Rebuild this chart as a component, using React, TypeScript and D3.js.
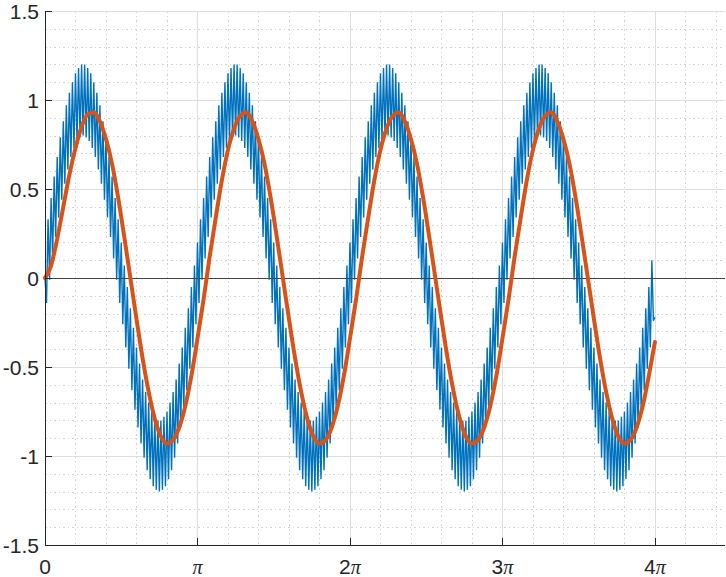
import React from 'react';
import * as d3 from 'd3';

const W = 726;
const H = 577;

// x-axis ticks (multiples of pi) and labels
const X_TICK_MULT = [0, 1, 2, 3, 4];
const X_TICK_NUM = ['0', '', '2', '3', '4'];
const Y_TICKS = [-1.5, -1, -0.5, 0, 0.5, 1, 1.5];
const Y_TICK_LABELS = ['-1.5', '-1', '-0.5', '0', '0.5', '1', '1.5'];

// noisy signal, sampled every pi/100 from 0 to 4*pi
const BLUE: number[] = [
  0.00, -0.14, 0.33, -0.01, 0.45, 0.11, 0.57, 0.23, 0.68, 0.34,
  0.79, 0.44, 0.88, 0.53, 0.97, 0.61, 1.04, 0.68, 1.10, 0.73,
  1.15, 0.77, 1.18, 0.79, 1.20, 0.80, 1.20, 0.79, 1.18, 0.77,
  1.15, 0.73, 1.10, 0.68, 1.04, 0.61, 0.97, 0.53, 0.88, 0.44,
  0.79, 0.34, 0.68, 0.23, 0.57, 0.11, 0.45, -0.01, 0.33, -0.14,
  0.20, -0.26, 0.07, -0.39, -0.05, -0.51, -0.17, -0.63, -0.28, -0.74,
  -0.39, -0.84, -0.48, -0.93, -0.57, -1.01, -0.64, -1.08, -0.70, -1.13,
  -0.75, -1.17, -0.78, -1.19, -0.80, -1.20, -0.80, -1.19, -0.78, -1.17,
  -0.75, -1.13, -0.70, -1.08, -0.64, -1.01, -0.57, -0.93, -0.48, -0.84,
  -0.39, -0.74, -0.28, -0.63, -0.17, -0.51, -0.05, -0.39, 0.07, -0.26,
  0.20, -0.14, 0.33, -0.01, 0.45, 0.11, 0.57, 0.23, 0.68, 0.34,
  0.79, 0.44, 0.88, 0.53, 0.97, 0.61, 1.04, 0.68, 1.10, 0.73,
  1.15, 0.77, 1.18, 0.79, 1.20, 0.80, 1.20, 0.79, 1.18, 0.77,
  1.15, 0.73, 1.10, 0.68, 1.04, 0.61, 0.97, 0.53, 0.88, 0.44,
  0.79, 0.34, 0.68, 0.23, 0.57, 0.11, 0.45, -0.01, 0.33, -0.14,
  0.20, -0.26, 0.07, -0.39, -0.05, -0.51, -0.17, -0.63, -0.28, -0.74,
  -0.39, -0.84, -0.48, -0.93, -0.57, -1.01, -0.64, -1.08, -0.70, -1.13,
  -0.75, -1.17, -0.78, -1.19, -0.80, -1.20, -0.80, -1.19, -0.78, -1.17,
  -0.75, -1.13, -0.70, -1.08, -0.64, -1.01, -0.57, -0.93, -0.48, -0.84,
  -0.39, -0.74, -0.28, -0.63, -0.17, -0.51, -0.05, -0.39, 0.07, -0.26,
  0.20, -0.14, 0.33, -0.01, 0.45, 0.11, 0.57, 0.23, 0.68, 0.34,
  0.79, 0.44, 0.88, 0.53, 0.97, 0.61, 1.04, 0.68, 1.10, 0.73,
  1.15, 0.77, 1.18, 0.79, 1.20, 0.80, 1.20, 0.79, 1.18, 0.77,
  1.15, 0.73, 1.10, 0.68, 1.04, 0.61, 0.97, 0.53, 0.88, 0.44,
  0.79, 0.34, 0.68, 0.23, 0.57, 0.11, 0.45, -0.01, 0.33, -0.14,
  0.20, -0.26, 0.07, -0.39, -0.05, -0.51, -0.17, -0.63, -0.28, -0.74,
  -0.39, -0.84, -0.48, -0.93, -0.57, -1.01, -0.64, -1.08, -0.70, -1.13,
  -0.75, -1.17, -0.78, -1.19, -0.80, -1.20, -0.80, -1.19, -0.78, -1.17,
  -0.75, -1.13, -0.70, -1.08, -0.64, -1.01, -0.57, -0.93, -0.48, -0.84,
  -0.39, -0.74, -0.28, -0.63, -0.17, -0.51, -0.05, -0.39, 0.07, -0.26,
  0.20, -0.14, 0.33, -0.01, 0.45, 0.11, 0.57, 0.23, 0.68, 0.34,
  0.79, 0.44, 0.88, 0.53, 0.97, 0.61, 1.04, 0.68, 1.10, 0.73,
  1.15, 0.77, 1.18, 0.79, 1.20, 0.80, 1.20, 0.79, 1.18, 0.77,
  1.15, 0.73, 1.10, 0.68, 1.04, 0.61, 0.97, 0.53, 0.88, 0.44,
  0.79, 0.34, 0.68, 0.23, 0.57, 0.11, 0.45, -0.01, 0.33, -0.14,
  0.20, -0.26, 0.07, -0.39, -0.05, -0.51, -0.17, -0.63, -0.28, -0.74,
  -0.39, -0.84, -0.48, -0.93, -0.57, -1.01, -0.64, -1.08, -0.70, -1.13,
  -0.75, -1.17, -0.78, -1.19, -0.80, -1.20, -0.80, -1.19, -0.78, -1.17,
  -0.75, -1.13, -0.70, -1.08, -0.64, -1.01, -0.57, -0.93, -0.48, -0.84,
  -0.39, -0.74, -0.28, -0.63, -0.17, -0.51, -0.05, -0.39, 0.10, -0.24,
  -0.22,
];
const BLUE_STEP = Math.PI / 100;

// filtered signal, sampled every pi/25 from 0 to 4*pi
const RED: number[] = [
  0.00, 0.07, 0.22, 0.40, 0.58, 0.73, 0.85, 0.92, 0.93, 0.88,
  0.78, 0.64, 0.45, 0.23, 0.00, -0.23, -0.45, -0.64, -0.79, -0.89,
  -0.93, -0.91, -0.84, -0.72, -0.55,
  -0.34, -0.12, 0.12, 0.34, 0.55, 0.72, 0.84, 0.91, 0.93, 0.88,
  0.78, 0.64, 0.45, 0.23, 0.00, -0.23, -0.45, -0.64, -0.79, -0.89,
  -0.93, -0.91, -0.84, -0.72, -0.55,
  -0.34, -0.12, 0.12, 0.34, 0.55, 0.72, 0.84, 0.91, 0.93, 0.88,
  0.78, 0.64, 0.45, 0.23, 0.00, -0.23, -0.45, -0.64, -0.79, -0.89,
  -0.93, -0.91, -0.84, -0.72, -0.55,
  -0.34, -0.12, 0.12, 0.34, 0.55, 0.72, 0.84, 0.91, 0.93, 0.88,
  0.78, 0.64, 0.45, 0.23, 0.00, -0.23, -0.45, -0.64, -0.79, -0.89,
  -0.93, -0.91, -0.84, -0.72, -0.55,
  -0.36,
];
const RED_STEP = Math.PI / 25;

const X_DOMAIN: [number, number] = [0, 14];
const Y_DOMAIN: [number, number] = [-1.5, 1.5];

export default function App() {
  const left = 45, right = 724.5, top = 11, bottom = 545;
  const x = d3.scaleLinear().domain(X_DOMAIN).range([left, right]);
  const y = d3.scaleLinear().domain(Y_DOMAIN).range([bottom, top]);

  const px = (v: number) => Math.round(v) + 0.5;

  const minorX = d3.range(1, 23).map((i) => (i * Math.PI) / 5).filter((v, i) => (i + 1) % 5 !== 0 && v <= 14);
  const minorY = d3.range(-14, 15).map((i) => i / 10).filter((v) => Math.abs(Math.round(v * 10)) % 5 !== 0);

  const blueLine = d3
    .line<number>()
    .x((_, i) => x(i * BLUE_STEP))
    .y((d) => y(d));
  const redLine = d3
    .line<number>()
    .x((_, i) => x(i * RED_STEP))
    .y((d) => y(d))
    .curve(d3.curveMonotoneX);

  const sans = 'Liberation Sans, Arial, Helvetica, sans-serif';
  const fs = 21;

  return (
    <svg
      width={W}
      height={H}
      viewBox={`0 0 ${W} ${H}`}
      style={{ position: 'absolute', left: 0, top: 0, background: '#fff' }}
    >
      <rect x={0} y={0} width={W} height={H} fill="#fff" />
      {/* minor grid */}
      <g stroke="#d2d2d2" strokeWidth={1} strokeDasharray="1.5,3" shapeRendering="crispEdges">
        {minorX.map((v, i) => (
          <line key={'mx' + i} x1={px(x(v))} x2={px(x(v))} y1={top} y2={bottom} />
        ))}
        {minorY.map((v, i) => (
          <line key={'my' + i} x1={left} x2={right} y1={px(y(v))} y2={px(y(v))} />
        ))}
      </g>
      {/* major grid */}
      <g stroke="#dedede" strokeWidth={1} shapeRendering="crispEdges">
        {X_TICK_MULT.map((m, i) => (
          <line key={'gx' + i} x1={px(x(m * Math.PI))} x2={px(x(m * Math.PI))} y1={top} y2={bottom} />
        ))}
        {Y_TICKS.map((v, i) => (
          <line key={'gy' + i} x1={left} x2={right} y1={px(y(v))} y2={px(y(v))} />
        ))}
      </g>
      {/* data */}
      <path d={blueLine(BLUE) || ''} fill="none" stroke="#0072BD" strokeWidth={1.4} strokeLinejoin="miter" />
      <line x1={left} x2={right} y1={px(y(0))} y2={px(y(0))} stroke="#444" strokeWidth={1} shapeRendering="crispEdges" />
      <path d={redLine(RED) || ''} fill="none" stroke="#D95319" strokeWidth={4} strokeLinejoin="round" strokeLinecap="round" />
      {/* axes */}
      <g stroke="#262626" strokeWidth={1} shapeRendering="crispEdges">
        <line x1={px(left)} x2={px(left)} y1={top} y2={bottom + 0.5} />
        <line x1={left} x2={right} y1={px(bottom)} y2={px(bottom)} />
        {X_TICK_MULT.map((m, i) => (
          <line key={'tx' + i} x1={px(x(m * Math.PI))} x2={px(x(m * Math.PI))} y1={bottom} y2={bottom - 7} />
        ))}
        {Y_TICKS.map((v, i) => (
          <line key={'ty' + i} x1={left} x2={left + 7} y1={px(y(v))} y2={px(y(v))} />
        ))}
      </g>
      {/* tick labels */}
      <g fill="#262626" fontFamily={sans} fontSize={fs}>
        {Y_TICKS.map((v, i) => (
          <text key={'ly' + i} x={left - 6} y={y(v)} textAnchor="end" dominantBaseline="central">
            {Y_TICK_LABELS[i]}
          </text>
        ))}
        {X_TICK_MULT.map((m, i) => (
          <text key={'lx' + i} x={x(m * Math.PI)} y={574} textAnchor="middle">
            {X_TICK_NUM[i]}
            {m > 0 ? (
              <tspan fontFamily="Liberation Serif, Times New Roman, serif" fontStyle="italic" fontSize={fs - 1}>
                π
              </tspan>
            ) : null}
          </text>
        ))}
      </g>
    </svg>
  );
}
